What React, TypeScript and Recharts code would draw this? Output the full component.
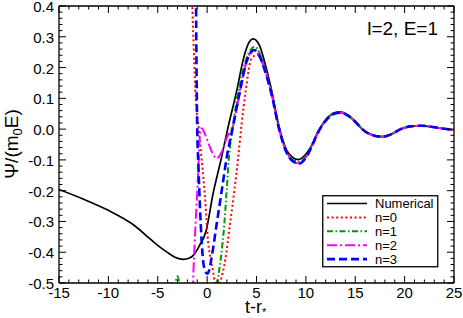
import React from "react";
import { LineChart, Line, XAxis, YAxis, Legend } from "recharts";

const FONT = "'Liberation Sans', Arial, Helvetica, sans-serif";

// tick labels
const xLabels = [-15, -10, -5, 0, 5, 10, 15, 20, 25];
const yLabels = [-0.5, -0.4, -0.3, -0.2, -0.1, 0.0, 0.1, 0.2, 0.3, 0.4];

// numerical waveform
const numT = [-15, -12.5, -10, -7.5, -5.8, -5, -4.1, -3.2, -2.4, -1.8, -1.4, -0.8, -0.1, 0.6, 1.4, 2.15, 3.0, 3.65, 4.1, 4.66, 5.3, 5.85, 6.52, 7.2, 7.6, 8.05, 8.6, 9.25, 9.9, 10.5, 11.2, 12.0, 12.8, 13.5, 14.3, 15.0, 15.7, 16.6, 17.7, 18.7, 19.6, 20.6, 21.7, 23.0, 24.0, 25.0];
const numPsi = [-0.196, -0.228, -0.264, -0.31, -0.356, -0.378, -0.399, -0.417, -0.423, -0.419, -0.41, -0.38, -0.33, -0.21, -0.1, 0.01, 0.125, 0.225, 0.272, 0.293, 0.272, 0.215, 0.127, 0.018, -0.03, -0.068, -0.09, -0.099, -0.085, -0.058, -0.01, 0.03, 0.052, 0.056, 0.045, 0.025, 0.0, -0.017, -0.024, -0.015, 0.0, 0.009, 0.011, 0.006, 0.001, -0.003];

// shared late-time tail of the approximations
const tailT = [14.3, 15.0, 15.7, 16.6, 17.7, 18.7, 19.6, 20.6, 21.7, 23.0, 24.0, 25.0];
const tailPsi = [0.043, 0.024, 0.0, -0.018, -0.025, -0.016, 0.0, 0.009, 0.011, 0.006, 0.001, -0.003];

// n=0
const n0T = [-1.7, -1.48, -1.35, -1.14, -0.85, -0.55, -0.23, 0.1, 0.34, 0.61, 0.8, 1.05, 1.29, 1.86, 2.3, 2.74, 3.14, 3.48, 3.89, 4.5, 5.15, 5.6, 6.1, 6.6, 7.25, 8.1, 8.7, 9.35, 9.95, 10.5, 11.2, 12.0, 12.8, 13.5];
const n0Psi = [0.8, 0.387, 0.257, 0.094, 0.0, -0.1, -0.215, -0.367, -0.42, -0.464, -0.5, -0.52, -0.5, -0.42, -0.312, -0.204, -0.095, 0.013, 0.121, 0.23, 0.243, 0.225, 0.175, 0.11, 0.01, -0.075, -0.1, -0.108, -0.092, -0.06, -0.012, 0.028, 0.05, 0.054];

// n=1
const n1T = [-3.4, -3.0, -2.6, -1.5, 0.0, 0.8, 1.12, 1.39, 1.73, 1.97, 2.2, 2.64, 3.14, 3.99, 4.83, 5.4, 5.9, 6.55, 7.25, 8.1, 8.7, 9.35, 9.95, 10.5, 11.2, 12.0, 12.8, 13.5];
const n1Psi = [-0.56, -0.478, -0.56, -0.85, -0.85, -0.62, -0.485, -0.42, -0.312, -0.204, -0.095, 0.013, 0.121, 0.23, 0.268, 0.24, 0.19, 0.115, 0.008, -0.078, -0.1, -0.107, -0.092, -0.06, -0.012, 0.028, 0.05, 0.054];

// n=2
const n2T = [-1.55, -1.42, -1.25, -1.08, -0.91, -0.75, -0.57, -0.3, 0.0, 0.5, 0.95, 1.3, 1.6, 1.97, 2.64, 3.31, 4.0, 4.77, 5.4, 5.9, 6.55, 7.25, 8.1, 8.7, 9.35, 9.95, 10.5, 11.2, 12.0, 12.8, 13.5];
const n2Psi = [-0.7, -0.5, -0.361, -0.253, -0.144, -0.03, 0.003, -0.01, -0.035, -0.075, -0.095, -0.085, -0.065, -0.03, 0.013, 0.121, 0.22, 0.257, 0.23, 0.185, 0.11, 0.005, -0.08, -0.105, -0.112, -0.095, -0.063, -0.013, 0.027, 0.049, 0.053];

// n=3
const n3T = [-1.2, -1.12, -1.0, -0.88, -0.73, -0.56, -0.4, -0.2, 0.0, 0.2, 0.44, 0.95, 1.46, 1.97, 2.64, 3.31, 4.0, 4.77, 5.4, 5.9, 6.55, 7.25, 8.1, 8.7, 9.35, 9.95, 10.5, 11.2, 12.0, 12.8, 13.5];
const n3Psi = [0.9, 0.4, 0.0, -0.12, -0.25, -0.361, -0.43, -0.46, -0.47, -0.46, -0.42, -0.312, -0.204, -0.095, 0.013, 0.121, 0.22, 0.257, 0.23, 0.185, 0.11, 0.005, -0.08, -0.105, -0.112, -0.095, -0.063, -0.013, 0.027, 0.049, 0.053];

const toPoints = (t: number[], psi: number[]) => t.map((x, i) => ({ t: x, psi: psi[i] }));

const series = [
  { name: "Numerical", color: "#000000", width: 1.7, dash: undefined, data: toPoints(numT, numPsi) },
  { name: "n=0", color: "#ff0000", width: 2, dash: "2 2.6", data: toPoints([...n0T, ...tailT], [...n0Psi, ...tailPsi]) },
  { name: "n=1", color: "#009a00", width: 2, dash: "6 2.5 1.5 2.5", data: toPoints([...n1T, ...tailT], [...n1Psi, ...tailPsi]) },
  { name: "n=2", color: "#ff00ff", width: 2, dash: "10 3 2 3", data: toPoints([...n2T, ...tailT], [...n2Psi, ...tailPsi]) },
  { name: "n=3", color: "#0000ff", width: 2.6, dash: "8 4", data: toPoints([...n3T, ...tailT], [...n3Psi, ...tailPsi]) },
];

const xTicks = Array.from({ length: 41 }, (_, i) => -15 + i);
const yTicks = Array.from({ length: 46 }, (_, i) => (i * 2 - 50) / 100);
const isXMajor = (v: number) => xLabels.includes(v);
const isYMajor = (v: number) => yLabels.some((l) => Math.abs(l - v) < 1e-6);

const BottomTick = (p: any) => {
  const v = p.payload.value;
  const major = isXMajor(v);
  return (
    <g>
      <line x1={p.x} x2={p.x} y1={p.y} y2={p.y - (major ? 7 : 3.5)} stroke="#000" strokeWidth={1} />
      {major && (
        <text x={p.x} y={p.y + 15} textAnchor="middle" fontSize={15} fontFamily={FONT} fill="#000">
          {v}
        </text>
      )}
    </g>
  );
};

const TopTick = (p: any) => {
  const major = isXMajor(p.payload.value);
  return <line x1={p.x} x2={p.x} y1={p.y} y2={p.y + (major ? 7 : 3.5)} stroke="#000" strokeWidth={1} />;
};

const LeftTick = (p: any) => {
  const v = p.payload.value;
  const major = isYMajor(v);
  return (
    <g>
      <line x1={p.x} x2={p.x + (major ? 7 : 3.5)} y1={p.y} y2={p.y} stroke="#000" strokeWidth={1} />
      {major && (
        <text x={p.x - 5} y={p.y + 6} textAnchor="end" fontSize={15} fontFamily={FONT} fill="#000">
          {v.toFixed(1)}
        </text>
      )}
    </g>
  );
};

const RightTick = (p: any) => {
  const major = isYMajor(p.payload.value);
  return <line x1={p.x} x2={p.x - (major ? 7 : 3.5)} y1={p.y} y2={p.y} stroke="#000" strokeWidth={1} />;
};

const YTitle = () => (
  <text transform="translate(17.5,144) rotate(-90)" textAnchor="middle" fontSize={19} fontFamily={FONT} fill="#000">
    Ψ/(m
    <tspan fontSize={13} dy={4}>0</tspan>
    <tspan dy={-4}>E)</tspan>
  </text>
);

const XTitle = () => (
  <text x={245} y={312.5} fontSize={18} fontFamily={FONT} fill="#000">
    t-r
    <tspan fontSize={11} dy={3}>*</tspan>
  </text>
);

const Note = () => (
  <text x={438} y={35} textAnchor="end" fontSize={19} fontFamily={FONT} fill="#000">
    l=2, E=1
  </text>
);

const LegendBox = () => (
  <svg width={117} height={73} style={{ display: "block" }}>
    <rect x={0.75} y={0.75} width={115} height={71} fill="#fff" stroke="#000" strokeWidth={1.3} />
    {series.map((s, i) => {
      const cy = 8.5 + i * 13.9;
      return (
        <g key={s.name}>
          <line x1={5} x2={45} y1={cy} y2={cy} stroke={s.color} strokeWidth={s.width} strokeDasharray={s.dash} />
          <text x={53} y={cy + 4.5} fontSize={13} fontFamily={FONT} fill="#000">
            {s.name}
          </text>
        </g>
      );
    })}
  </svg>
);

export default function App() {
  const axisLine = { stroke: "#000", strokeWidth: 1.3 };
  return (
    <div style={{ position: "absolute", left: 0, top: 0, width: 463, height: 318, background: "#fff" }}>
      <LineChart width={463} height={318} margin={{ top: 5, right: 8, bottom: 34, left: 58 }}>
        <XAxis
          type="number"
          dataKey="t"
          domain={[-15, 25]}
          ticks={xTicks}
          interval={0}
          allowDataOverflow
          height={1}
          tickSize={0}
          tickMargin={0}
          tickLine={false}
          axisLine={axisLine}
          tick={(p: any) => <BottomTick {...p} />}
          label={<XTitle />}
        />
        <XAxis
          xAxisId="top"
          orientation="top"
          type="number"
          dataKey="t"
          domain={[-15, 25]}
          ticks={xTicks}
          interval={0}
          allowDataOverflow
          height={1}
          tickSize={0}
          tickMargin={0}
          tickLine={false}
          axisLine={axisLine}
          tick={(p: any) => <TopTick {...p} />}
          label={<Note />}
        />
        <YAxis
          type="number"
          domain={[-0.5, 0.4]}
          ticks={yTicks}
          interval={0}
          allowDataOverflow
          width={1}
          tickSize={0}
          tickMargin={0}
          tickLine={false}
          axisLine={axisLine}
          tick={(p: any) => <LeftTick {...p} />}
          label={<YTitle />}
        />
        <YAxis
          yAxisId="right"
          orientation="right"
          type="number"
          domain={[-0.5, 0.4]}
          ticks={yTicks}
          interval={0}
          allowDataOverflow
          width={1}
          tickSize={0}
          tickMargin={0}
          tickLine={false}
          axisLine={axisLine}
          tick={(p: any) => <RightTick {...p} />}
        />
        {series.map((s) => (
          <Line
            key={s.name}
            data={s.data}
            dataKey="psi"
            name={s.name}
            type="monotone"
            stroke={s.color}
            strokeWidth={s.width}
            strokeDasharray={s.dash}
            dot={false}
            activeDot={false}
            isAnimationActive={false}
          />
        ))}
        <Legend
          layout="vertical"
          align="center"
          verticalAlign="middle"
          content={() => <LegendBox />}
          wrapperStyle={{ left: 322, top: 195, width: 117, height: 73 }}
        />
      </LineChart>
    </div>
  );
}
